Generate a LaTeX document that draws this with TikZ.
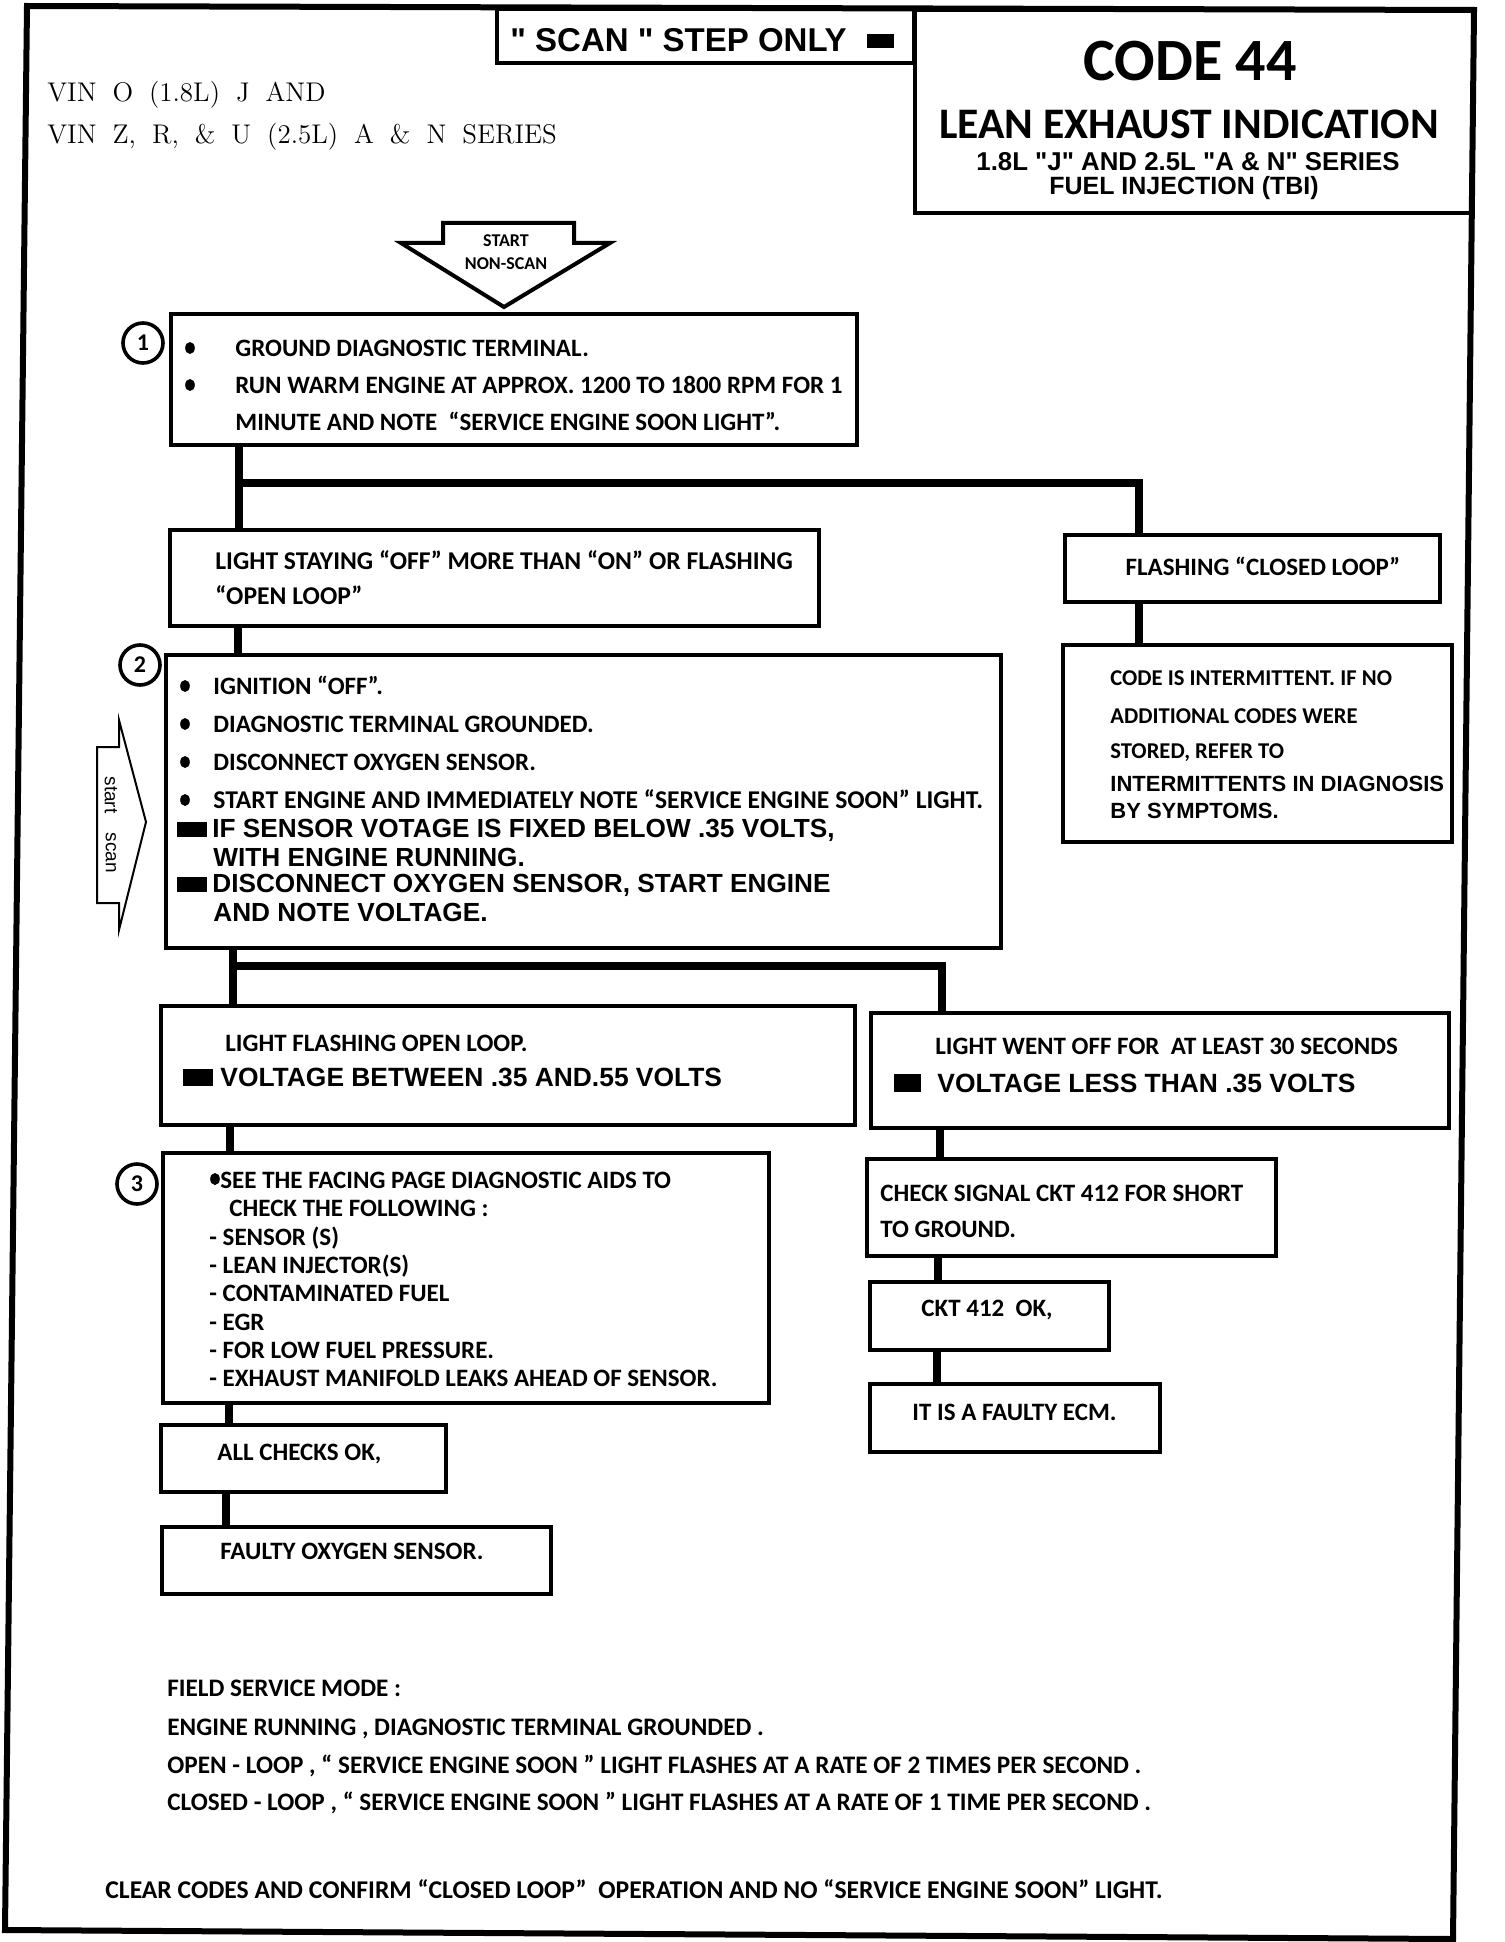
\documentclass[tikz,border=0pt]{standalone}
\usepackage{fontspec}
\setmainfont{Latin Modern Roman}
\newfontfamily\carl{Carlito}
\newfontfamily\arialf{Liberation Sans}[Ligatures=TeXOff]
\newcommand\cfont[1]{\carl\bfseries\fontsize{#1}{#1}\selectfont}
\newcommand\afont[1]{\arialf\fontsize{#1}{#1}\selectfont}
\newcommand\abfont[1]{\arialf\bfseries\fontsize{#1}{#1}\selectfont}
\newcommand\bx[5]{\node[box,anchor=north west,minimum width={(#4-#2)*0.5pt},minimum height={(#5-#3)*0.5pt}] (#1) at (#2,#3) {};}
\newcommand\bul[1]{\fill (#1) ellipse [x radius=2.4pt, y radius=3pt];}
\tikzset{
  box/.style={draw, line width=2.2pt, inner sep=0pt, outer sep=0pt},
  conn/.style={line width=4.2pt},
  ct/.style={anchor=west, inner sep=0pt, font=\cfont{12.5}, text height=8pt, text depth=0pt},
  atxt/.style={anchor=west, inner sep=0pt, font=\abfont{13.1}, text height=9.4pt, text depth=0pt},
  circ/.style={circle, draw, line width=1.8pt, minimum size=20pt, inner sep=0pt, font=\cfont{12}},
}
\begin{document}
\begin{tikzpicture}[x=0.5pt,y=-0.5pt]
\useasboundingbox (0,0) rectangle (1504,1942);
% outer frame
\draw[line width=3pt] (27,6) -- (1474,10) -- (1453,1939) -- (5,1930) -- cycle;

% boxes
\bx{scanbox}{497}{9}{914}{63}
\bx{titlebox}{915}{10}{1473}{213}
\bx{b1}{171}{314}{857}{445}
\bx{bls}{170}{530}{819}{626}
\bx{bfc}{1065}{535}{1440}{602}
\bx{bci}{1063}{645}{1452}{842}
\bx{b2}{166}{655}{1001}{948}
\bx{blf}{161}{1006}{855}{1125}
\bx{blw}{871}{1013}{1449}{1128}
\bx{bcs}{867}{1159}{1276}{1256}
\bx{bck}{870}{1282}{1109}{1350}
\bx{becm}{870}{1384}{1160}{1452}
\bx{b3}{163}{1153}{769}{1403}
\bx{bac}{161}{1425}{446}{1492}
\bx{bfo}{162}{1527}{551}{1594}

% connector x positions
\coordinate (xa) at (239,0);
\coordinate (xb) at (1139,0);
\coordinate (xc) at (238,0);
\coordinate (xd) at (233,0);
\coordinate (xe) at (942,0);
\coordinate (xf) at (230,0);
\coordinate (xg) at (940,0);
\coordinate (xh) at (938,0);
\coordinate (xi) at (937,0);
\coordinate (xj) at (229,0);
\coordinate (xk) at (226,0);
\coordinate (j1) at (239,483);
\coordinate (j2) at (233,966);

\draw[conn] (b1.south -| xa) -- (bls.north -| xa);
\draw[conn] (j1) -| (bfc.north -| xb);
\draw[conn] (bfc.south -| xb) -- (bci.north -| xb);
\draw[conn] (bls.south -| xc) -- (b2.north -| xc);
\draw[conn] (b2.south -| xd) -- (blf.north -| xd);
\draw[conn] (j2) -| (blw.north -| xe);
\draw[conn] (blf.south -| xf) -- (b3.north -| xf);
\draw[conn] (blw.south -| xg) -- (bcs.north -| xg);
\draw[conn] (bcs.south -| xh) -- (bck.north -| xh);
\draw[conn] (bck.south -| xi) -- (becm.north -| xi);
\draw[conn] (b3.south -| xj) -- (bac.north -| xj);
\draw[conn] (bac.south -| xk) -- (bfo.north -| xk);

% header
\node[anchor=west, inner sep=0pt, font=\abfont{16.5}, text height=12pt, text depth=0pt] (scantxt) at (510,40) {" SCAN " STEP ONLY\hspace{10pt}\rule[1.8pt]{13.5pt}{7pt}};
\node[inner sep=0pt, font=\cfont{30}] (code) at (1190,61) {CODE 44};
\node[inner sep=0pt, font=\cfont{21.8}] (lean) at (1189,124) {LEAN EXHAUST INDICATION};
\node[inner sep=0pt, font=\abfont{12.9}, text height=9.2pt, text depth=0pt] (ser) at (1188,161) {1.8L "J" AND 2.5L "A \& N" SERIES};
\node[inner sep=0pt, font=\abfont{12.5}, text height=8.9pt, text depth=0pt] (fuel) at (1184,186) {FUEL INJECTION (TBI)};
\node[anchor=west, inner sep=0pt, font=\fontsize{13.5}{15}\selectfont, text height=9.2pt, text depth=0pt] (vin1) at (47,92) {\spaceskip=8pt VIN O (1.8L) J AND};
\node[anchor=west, inner sep=0pt, font=\fontsize{13.5}{15}\selectfont, text height=9.2pt, text depth=0pt] (vin2) at (47,134) {\spaceskip=8pt VIN Z, R, \& U (2.5L) A \& N SERIES};

% start arrow (non-scan)
\draw[line width=2pt] (443,223) -- (574,223) -- (574,243) -- (610,243) -- (504,307) -- (401,243) -- (443,243) -- cycle;
\node[inner sep=0pt, font=\cfont{9}] (sa1) at (506,241) {START};
\node[inner sep=0pt, font=\cfont{9}] (sa2) at (506,264) {NON-SCAN};

% start scan arrow
\draw[line width=1pt] (97,747) -- (119,747) -- (119,720) -- (146,822) -- (119,930) -- (119,903) -- (97,903) -- cycle;
\node[rotate=-90, inner sep=0pt, font=\afont{9.5}] (ss1) at (111,795) {start};
\node[rotate=-90, inner sep=0pt, font=\afont{9.5}] (ss2) at (111,853) {scan};

% step circles
\node[circ] (n1) at (143,343) {1};
\node[circ] (n2) at (140,665) {2};
\node[circ] (n3) at (137,1184) {3};

% box 1
\bul{190,348} \bul{190,385}
\node[ct] (t11) at (235,348) {GROUND DIAGNOSTIC TERMINAL.};
\node[ct] (t12) at (235,385) {RUN WARM ENGINE AT APPROX. 1200 TO 1800 RPM FOR 1};
\node[ct] (t13) at (235,422) {MINUTE AND NOTE \ “SERVICE ENGINE SOON LIGHT”.};

% light staying
\node[ct, font=\cfont{12.8}] (t21) at (215,561) {LIGHT STAYING “OFF” MORE THAN “ON” OR FLASHING};
\node[ct, font=\cfont{12.8}] (t22) at (215,596) {“OPEN LOOP”};

% flashing closed loop
\node[ct, anchor=center] (t31) at (1263,567) {FLASHING “CLOSED LOOP”};

% code intermittent
\node[ct, font=\cfont{11.3}] (t41) at (1110,677) {CODE IS INTERMITTENT. IF NO};
\node[ct, font=\cfont{11.3}] (t42) at (1110,715) {ADDITIONAL CODES WERE};
\node[ct, font=\cfont{11.3}] (t43) at (1110,750) {STORED, REFER TO};
\node[ct, font=\abfont{11}] (t44) at (1110,783) {INTERMITTENTS IN DIAGNOSIS};
\node[ct, font=\abfont{11}] (t45) at (1110,810) {BY SYMPTOMS.};

% box 2
\bul{185,686} \bul{185,724} \bul{185,762} \bul{185,800}
\node[ct] (t51) at (213,686) {IGNITION “OFF”.};
\node[ct] (t52) at (213,724) {DIAGNOSTIC TERMINAL GROUNDED.};
\node[ct] (t53) at (213,762) {DISCONNECT OXYGEN SENSOR.};
\node[ct, font=\cfont{12.8}] (t54) at (213,800) {START ENGINE AND IMMEDIATELY NOTE “SERVICE ENGINE SOON” LIGHT.};
\node[atxt] (t55) at (177,828) {\rule[0.3pt]{15pt}{7.5pt}\hspace{2.5pt}IF SENSOR VOTAGE IS FIXED BELOW .35 VOLTS,};
\node[atxt] (t56) at (213,857) {WITH ENGINE RUNNING.};
\node[atxt] (t57) at (177,883) {\rule[0.3pt]{15pt}{7.5pt}\hspace{2.5pt}DISCONNECT OXYGEN SENSOR, START ENGINE};
\node[atxt] (t58) at (213,912) {AND NOTE VOLTAGE.};

% light flashing open loop
\node[ct] (t61) at (225,1043) {LIGHT FLASHING OPEN LOOP.};
\node[atxt, font=\abfont{13.2}] (t62) at (183,1077) {\rule[0.2pt]{15pt}{8.5pt}\hspace{3.5pt}VOLTAGE BETWEEN .35 AND.55 VOLTS};

% light went off
\node[ct] (t71) at (935,1046) {LIGHT WENT OFF FOR \ AT LEAST 30 SECONDS};
\node[atxt, font=\abfont{13.2}] (t72) at (894,1083) {\rule[0pt]{13.5pt}{9pt}\hspace{8pt}VOLTAGE LESS THAN .35 VOLTS};

% right chain
\node[ct] (t81) at (880,1193) {CHECK SIGNAL CKT 412 FOR SHORT};
\node[ct] (t82) at (880,1229) {TO GROUND.};
\node[ct] (t91) at (921,1308) {CKT 412 \ OK,};
\node[ct] (t92) at (912,1412) {IT IS A FAULTY ECM.};

% box 3
\bul{215,1179}
\node[ct] (ta1) at (220,1180) {SEE THE FACING PAGE DIAGNOSTIC AIDS TO};
\node[ct] (ta2) at (229,1208) {CHECK THE FOLLOWING :};
\node[ct] (ta3) at (209,1237) {- SENSOR (S)};
\node[ct] (ta4) at (209,1265) {- LEAN INJECTOR(S)};
\node[ct] (ta5) at (209,1293) {- CONTAMINATED FUEL};
\node[ct] (ta6) at (209,1322) {- EGR};
\node[ct] (ta7) at (209,1350) {- FOR LOW FUEL PRESSURE.};
\node[ct] (ta8) at (209,1378) {- EXHAUST MANIFOLD LEAKS AHEAD OF SENSOR.};
\node[ct] (tb1) at (217,1452) {ALL CHECKS OK,};
\node[ct] (tb2) at (220,1551) {FAULTY OXYGEN SENSOR.};

% field service mode
\node[ct, font=\cfont{12.6}] (f1) at (167,1688) {FIELD SERVICE MODE :};
\node[ct, font=\cfont{12.6}] (f2) at (167,1727) {ENGINE RUNNING , DIAGNOSTIC TERMINAL GROUNDED .};
\node[ct, font=\cfont{12.6}] (f3) at (167,1765) {OPEN - LOOP , “ SERVICE ENGINE SOON ” LIGHT FLASHES AT A RATE OF 2 TIMES PER SECOND .};
\node[ct, font=\cfont{12.6}] (f4) at (167,1802) {CLOSED - LOOP , “ SERVICE ENGINE SOON ” LIGHT FLASHES AT A RATE OF 1 TIME PER SECOND .};
\node[ct, font=\cfont{12.8}] (f5) at (105,1890) {CLEAR CODES AND CONFIRM “CLOSED LOOP” \ OPERATION AND NO “SERVICE ENGINE SOON” LIGHT.};
\end{tikzpicture}
\end{document}
